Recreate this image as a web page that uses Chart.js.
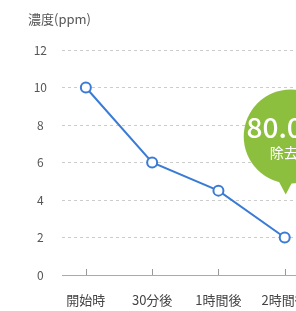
<!DOCTYPE html>
<html>
<head>
<meta charset="utf-8">
<script src="https://cdn.jsdelivr.net/npm/chart.js@4"></script>
<style>
  html, body { margin: 0; padding: 0; background: #fff; overflow: hidden; }
  #wrap { position: relative; width: 296px; height: 311px; overflow: hidden; }
  #box { position: absolute; left: 0; top: 0; width: 358px; height: 311px; }
  #ytitle { position: absolute; left: 28px; top: 9px; font: 13px "Noto Sans CJK JP", "Noto Sans", sans-serif; color: #555; }
</style>
</head>
<body>
<div id="wrap">
  <div id="box"><canvas id="lineChart"></canvas></div>
  <div id="ytitle">濃度(ppm)</div>
</div>
<script>
const labels = ['開始時', '30分後', '1時間後', '2時間後'];
const values = [10, 6, 4.5, 2];
const yTicks = [0, 2, 4, 6, 8, 10, 12];
const badgeValue = '80.0%';
const badgeLabel = '除去率';

const FONT = '"Noto Sans CJK JP", "Noto Sans", sans-serif';
const BLUE = '#3a7bd5';
const GREEN = '#8cbf3e';

// small tick marks standing up from the x axis
const axisTicks = {
  id: 'axisTicks',
  afterDraw(chart) {
    const x = chart.scales.x;
    const ctx = chart.ctx;
    ctx.save();
    ctx.strokeStyle = '#999';
    ctx.lineWidth = 1;
    x.ticks.forEach(t => {
      const px = Math.round(x.getPixelForValue(t.value)) + 0.5;
      ctx.beginPath();
      ctx.moveTo(px, x.top);
      ctx.lineTo(px, x.top - 6);
      ctx.stroke();
    });
    ctx.restore();
  }
};

// green speech bubble above the last point
const badge = {
  id: 'badge',
  afterDatasetsDraw(chart) {
    const meta = chart.getDatasetMeta(0);
    const last = meta.data[meta.data.length - 1];
    const ctx = chart.ctx;
    const tipX = last.x + 1, tipY = last.y - 43;
    const cx = last.x + 6, cy = last.y - 101, r = 47;
    ctx.save();
    ctx.fillStyle = GREEN;
    ctx.beginPath();
    ctx.arc(cx, cy, r, 0, Math.PI * 2);
    ctx.fill();
    ctx.beginPath();
    ctx.moveTo(tipX - 9, cy + r - 6);
    ctx.lineTo(tipX, tipY);
    ctx.lineTo(tipX + 9, cy + r - 6);
    ctx.closePath();
    ctx.fill();
    ctx.fillStyle = '#fff';
    ctx.textAlign = 'center';
    ctx.textBaseline = 'middle';
    ctx.font = '500 28px ' + FONT;
    ctx.fillText(badgeValue, cx - 3, cy - 9);
    ctx.font = '14px ' + FONT;
    ctx.fillText(badgeLabel, cx, cy + 16);
    ctx.restore();
  }
};

const ctx = document.getElementById('lineChart').getContext('2d');
new Chart(ctx, {
  type: 'line',
  data: {
    datasets: [{
      data: values.map((v, i) => ({ x: i, y: v })),
      borderColor: BLUE,
      borderWidth: 2,
      backgroundColor: '#fff',
      pointBackgroundColor: '#fff',
      pointBorderColor: BLUE,
      pointBorderWidth: 2,
      pointRadius: 5,
      tension: 0
    }]
  },
  options: {
    responsive: true,
    maintainAspectRatio: false,
    animation: false,
    layout: { padding: { top: 50, bottom: 2, left: 0, right: 0 } },
    plugins: { legend: { display: false }, tooltip: { enabled: false } },
    scales: {
      x: {
        type: 'linear',
        min: -0.36,
        max: 4,
        afterBuildTicks: s => { s.ticks = labels.map((l, i) => ({ value: i })); },
        afterFit: s => { s.height = 34; },
        grid: { drawOnChartArea: false, drawTicks: false },
        border: { display: true, color: '#aaa' },
        ticks: {
          padding: 17,
          color: '#444',
          font: { family: FONT, size: 13 },
          callback: v => labels[v]
        }
      },
      y: {
        min: 0,
        max: 12,
        afterBuildTicks: s => { s.ticks = yTicks.map(v => ({ value: v })); },
        afterFit: s => { s.width = 62; },
        border: { display: false, dash: [3, 3] },
        grid: {
          drawTicks: false,
          color: c => c.tick && c.tick.value === 0 ? 'rgba(0,0,0,0)' : '#cccccc'
        },
        ticks: {
          padding: 15,
          crossAlign: 'center',
          color: '#555',
          font: { family: FONT, size: 12 }
        }
      }
    }
  },
  plugins: [axisTicks, badge]
});
</script>
</body>
</html>
